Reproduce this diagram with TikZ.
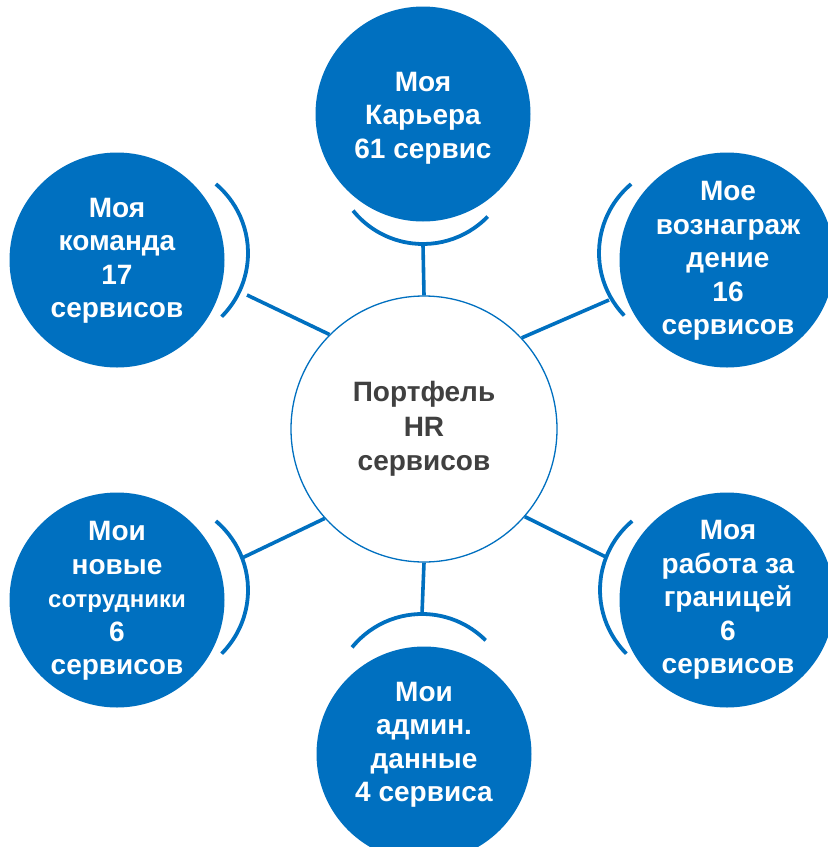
\documentclass[tikz,border=0pt]{standalone}
\usepackage{fontspec}
\setmainfont{Liberation Sans}
\usetikzlibrary{calc}
\definecolor{hrblue}{HTML}{0070C0}
\definecolor{hrgray}{HTML}{404040}
\begin{document}
\begin{tikzpicture}[x=1pt,y=-1pt,
  sat/.style={circle,fill=hrblue,minimum size=215pt,inner sep=0pt},
  sattext/.style={text=white,font=\bfseries\fontsize{28}{33.5}\selectfont,align=center,inner sep=0pt},
  hubstyle/.style={circle,draw=hrblue,line width=1.3pt,fill=white,minimum size=266pt,inner sep=0pt,text=hrgray,font=\bfseries\fontsize{28}{34.5}\selectfont,align=center},
  bracket/.style={draw=hrblue,line width=3.8pt},
  link/.style={draw=hrblue,line width=3.6pt}]
\clip (0,0) rectangle (828,847);
\fill[white] (0,0) rectangle (828,847);

% hub
\node[hubstyle] (hub) at (424,429) {Портфель\\HR\\сервисов};

% satellites
\node[sat] (c1) at (423,114) {};
\node[sat] (c2) at (117,260) {};
\node[sat] (c3) at (727,260) {};
\node[sat] (c4) at (117,600) {};
\node[sat] (c5) at (727,600) {};
\node[sat] (c6) at (424,754) {};

\node[sattext] (t1) at (423,118) {Моя\\Карьера\\61 сервис};
\node[sattext] (t2) at (117,261) {Моя\\команда\\17\\сервисов};
\node[sattext] (t3) at (728,261) {Мое\\вознаграж\\дение\\16\\сервисов};
\node[sattext] (t4) at (117,601) {Мои\\новые\\{\fontsize{24}{30}\selectfont сотрудники}\\6\\сервисов};
\node[sattext] (t5) at (728,600) {Моя\\работа за\\границей\\6\\сервисов};
\node[sattext] (t6) at (424,745) {Мои\\админ.\\данные\\4 сервиса};

% bracket arc centres
\coordinate (a1) at (423,154);
\coordinate (a2) at (158,253);
\coordinate (a3) at (689,253);
\coordinate (a4) at (158,590);
\coordinate (a5) at (690,590);
\coordinate (a6) at (422,704);

\draw[bracket] (a1) ++(44:90) arc[start angle=44,end angle=141,radius=90];
\draw[bracket] (a2) ++(-50:90) arc[start angle=-50,end angle=45,radius=90];
\draw[bracket] (a3) ++(136:90) arc[start angle=136,end angle=230,radius=90];
\draw[bracket] (a4) ++(-50:90) arc[start angle=-50,end angle=45,radius=90];
\draw[bracket] (a5) ++(135:90) arc[start angle=135,end angle=230,radius=90];
\draw[bracket] (a6) ++(219:90) arc[start angle=219,end angle=315,radius=90];

% connector outer ends
\coordinate (e1) at (423,245);
\coordinate (e2) at (247,295);
\coordinate (e3) at (609,300);
\coordinate (e4) at (242,558);
\coordinate (e5) at (606,557);
\coordinate (e6) at (422,614);

\draw[link] (e1) -- (hub.north);
\draw[link] (e2) -- (hub.135);
\draw[link] (e3) -- (hub.43);
\draw[link] (e4) -- (hub.222);
\draw[link] (e5) -- (hub.319);
\draw[link] (e6) -- (hub.south);
\end{tikzpicture}
\end{document}
